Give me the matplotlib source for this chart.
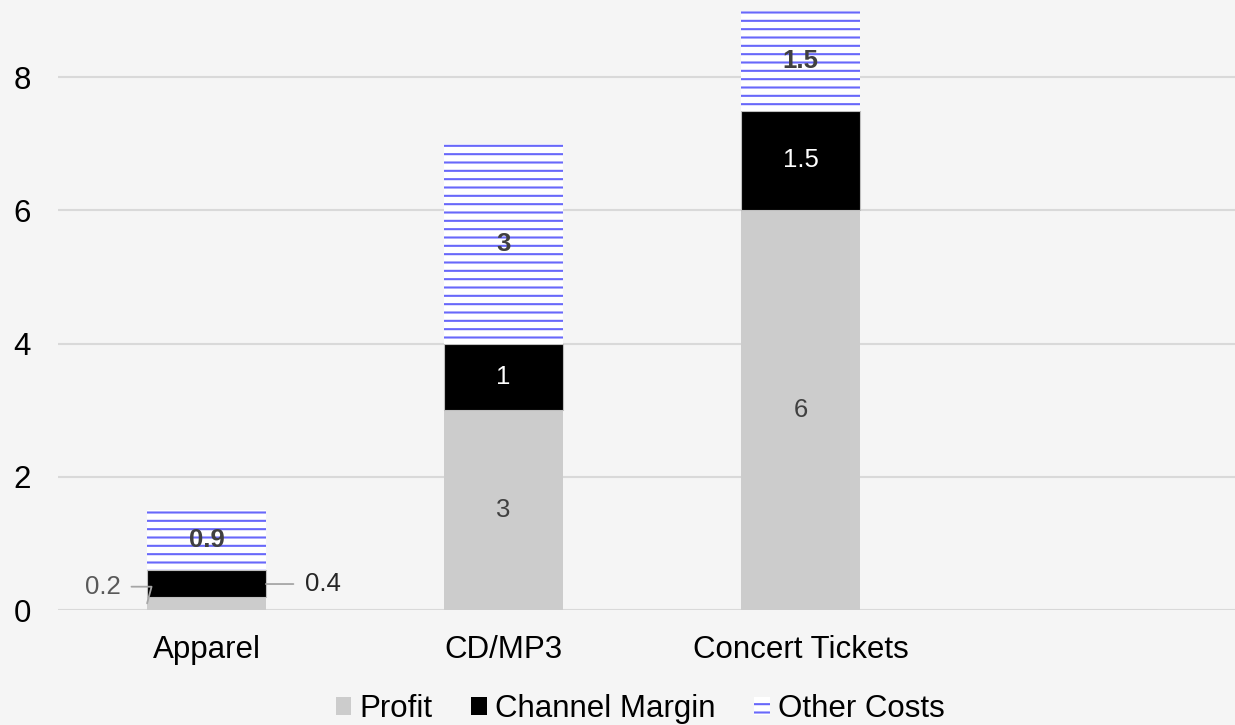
import matplotlib.pyplot as plt
from matplotlib.patches import Patch

categories = ['Apparel', 'CD/MP3', 'Concert Tickets', '']
profit = [0.2, 3, 6, 0]
channel = [0.4, 1, 1.5, 0]
other = [0.9, 3, 1.5, 0]

plt.rcParams['font.family'] = ['Liberation Sans', 'DejaVu Sans']
plt.rcParams['hatch.linewidth'] = 1.5

bg = '#f5f5f5'
blue = '#6868fa'
fig = plt.figure(figsize=(12.35, 7.25), dpi=100, facecolor=bg)
ax = fig.add_axes([58 / 1235, 115 / 725, 1188 / 1235, 610 / 725])
ax.set_facecolor(bg)

x = list(range(len(categories)))
w = 0.4
ax.bar(x, profit, w, color='#cccccc', zorder=3)
ax.bar(x, channel, w, bottom=profit, color='black', edgecolor='#bfbfbf', linewidth=0.8, zorder=3)
bot2 = [p + c for p, c in zip(profit, channel)]
ax.bar(x, other, w, bottom=bot2, color='white', edgecolor=blue, linewidth=0, hatch='--', zorder=3)

ax.set_xlim(-0.5, 3.5)
ax.set_ylim(0, 9.16)
ax.set_yticks([0, 2, 4, 6, 8])
ax.yaxis.grid(True, color='#d9d9d9', linewidth=1.5, zorder=0)
ax.set_axisbelow(True)
for s in ax.spines.values():
    s.set_visible(False)
ax.tick_params(length=0, labelsize=22.5)
ax.tick_params(axis='y', pad=19.5)
ax.set_xticks(x[:3])
ax.set_xticklabels(categories[:3])
ax.tick_params(axis='x', pad=18)

lab = 18.5
for i in range(3):
    if i == 0:
        # small values sit outside the bar with leader lines
        ax.annotate(f'{profit[i]:g}', xy=(i - w / 2, 0.1), xytext=(-0.29, 0.35),
                    ha='right', va='center', fontsize=lab, color='#595959',
                    arrowprops=dict(arrowstyle='-', color='#a6a6a6', lw=1.3,
                                    connectionstyle='angle,angleA=0,angleB=75,rad=0',
                                    shrinkA=6, shrinkB=0))
        ax.annotate(f'{channel[i]:g}', xy=(i + w / 2, 0.39), xytext=(0.33, 0.39),
                    ha='left', va='center', fontsize=lab, color='#262626',
                    arrowprops=dict(arrowstyle='-', color='#a6a6a6', lw=1.3,
                                    shrinkA=6, shrinkB=0))
    else:
        ax.text(i, profit[i] / 2, f'{profit[i]:g}', ha='center', va='center',
                fontsize=lab, color='#404040', zorder=4)
        ax.text(i, profit[i] + channel[i] / 2, f'{channel[i]:g}', ha='center', va='center',
                fontsize=lab, color='white', zorder=4)
    ax.text(i, bot2[i] + other[i] / 2, f'{other[i]:g}', ha='center', va='center',
            fontsize=lab, color='#404040', fontweight='bold', zorder=4)

handles = [Patch(facecolor='#cccccc', label='Profit'),
           Patch(facecolor='black', label='Channel Margin'),
           Patch(facecolor='white', edgecolor=blue, linewidth=0, hatch='--', label='Other Costs')]
fig.legend(handles=handles, loc='center', bbox_to_anchor=(640 / 1235, 16 / 725), ncol=3,
           frameon=False, fontsize=22.5, handlelength=0.5, handleheight=0.5,
           handletextpad=0.25, columnspacing=1.25, borderpad=0)

fig.savefig('out.png', dpi=100, facecolor=bg)
